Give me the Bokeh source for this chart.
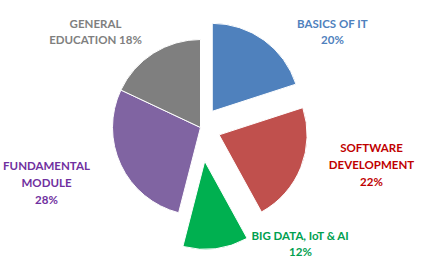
import numpy as np
from bokeh.plotting import figure
from bokeh.models import Range1d
from bokeh.core.properties import value
from bokeh.embed import file_html
from bokeh.resources import INLINE

# ---- data ----
categories = ["BASICS OF IT", "SOFTWARE DEVELOPMENT", "BIG DATA, IoT & AI",
              "FUNDAMENTAL MODULE", "GENERAL EDUCATION"]
shares = [20, 22, 12, 28, 18]
label_names = ["BASICS OF IT", "SOFTWARE\nDEVELOPMENT", "BIG DATA, IoT & AI",
               "FUNDAMENTAL\nMODULE", "GENERAL\nEDUCATION"]
label_sep = ["\n", "\n", "\n", "\n", " "]

# ---- styles / layout ----
slice_colors = ["#4F81BD", "#C0504D", "#00B050", "#8064A2", "#7F7F7F"]
text_colors = ["#4F81BD", "#C00000", "#00A050", "#7030A0", "#7F7F7F"]
explode = np.array([20, 20, 34, 0, 0])
label_px = [(332, 31), (371, 164), (300, 243), (46, 182), (95, 31)]

W, H = 423, 262
cx, cy = 200, H - 127
R = 88

frac = np.array(shares) / sum(shares)
cum = np.concatenate([[0], np.cumsum(frac)])
start = np.pi / 2 - cum[:-1] * 2 * np.pi
end = np.pi / 2 - cum[1:] * 2 * np.pi
mid = (start + end) / 2
xs = cx + explode * np.cos(mid)
ys = cy + explode * np.sin(mid)

p = figure(width=W, height=H, x_range=Range1d(0, W), y_range=Range1d(0, H),
           output_backend="svg", toolbar_location=None, min_border=0)
p.axis.visible = False
p.grid.visible = False
p.outline_line_color = None
p.background_fill_color = "white"
p.border_fill_color = "white"

p.wedge(x=xs, y=ys, radius=R, start_angle=start, end_angle=end,
        direction="clock", fill_color=slice_colors, line_color="white",
        line_width=1)

texts = [f"{n}{s}{v}%" for n, s, v in zip(label_names, label_sep, shares)]
p.text(x=[lx for lx, ly in label_px], y=[H - ly for lx, ly in label_px],
       text=texts, text_color=text_colors, text_align="center",
       text_baseline="middle", text_font=value("Lato"), text_font_size="11.5px",
       text_font_style="bold", text_line_height=1.3)

open("out.html", "w").write(file_html(p, INLINE))
